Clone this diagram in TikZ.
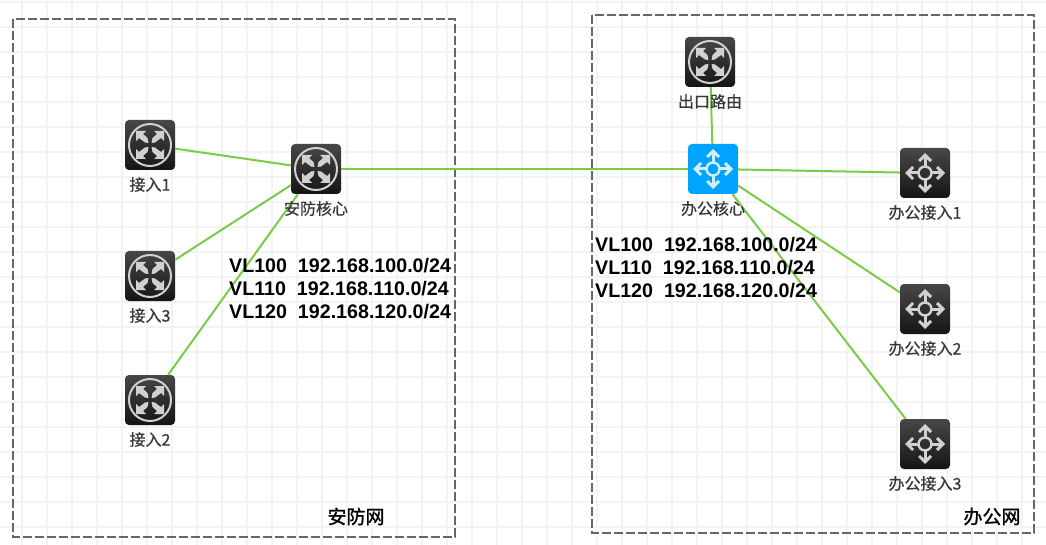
\documentclass[tikz,border=0pt]{standalone}
\usepackage{fontspec}
\usepackage{xcolor}
\setmainfont{Liberation Sans}
\newfontfamily\cjk[FakeBold=0.6]{Noto Sans CJK SC}
\newfontfamily\cjkzone[FakeBold=1.2]{Noto Sans CJK SC}
\definecolor{linkgreen}{HTML}{78CC46}
\definecolor{gridgray}{HTML}{F3F3F3}
\definecolor{zonegray}{HTML}{666666}
\definecolor{coreblue}{HTML}{00A4FF}
\tikzset{
  devbox/.style={rounded corners=4pt, minimum size=50pt, inner sep=0pt, top color=black!72, bottom color=black!92},
  corebox/.style={rounded corners=4pt, minimum size=50pt, inner sep=0pt, fill=coreblue},
  devlabel/.style={font=\cjk\fontsize{16}{18}\selectfont, text=black!78, inner sep=0pt},
  zonelabel/.style={font=\cjkzone\fontsize{19}{21}\selectfont, text=black, inner sep=0pt},
  vlanlabel/.style={font=\bfseries\fontsize{19.65}{23}\selectfont, align=left, anchor=west, inner sep=0pt},
  zonebox/.style={draw=zonegray, line width=2pt, dash pattern=on 9pt off 3pt},
  link/.style={draw=linkgreen, line width=2pt},
  routerglyph/.pic={
    \draw[black!18, line width=2pt] (0,0) circle (21);
    \foreach \sx/\sy in {1/1,1/-1,-1/1,-1/-1} {
      \begin{scope}[xscale=\sx, yscale=\sy]
        \fill[black!18] (14,-14) -- (4,-14) -- (7,-11) -- (2.5,-7) -- (1.5,-2) -- (5,-2.5) -- (11,-7) -- (14,-4) -- cycle;
      \end{scope}
    }
  },
  switchglyph/.pic={
    \draw[#1, line width=2.4pt] (0,0) circle (6.5);
    \foreach \r in {0,90,180,270} {
      \begin{scope}[rotate=\r]
        \draw[#1, line width=3pt] (7,0) -- (18,0);
        \fill[#1] (20,0) -- (13,-7) -- (11,-5) -- (15.5,0) -- (11,5) -- (13,7) -- cycle;
      \end{scope}
    }
  }
}
\begin{document}
\begin{tikzpicture}[x=1pt,y=-1pt]
\useasboundingbox (0,0) rectangle (1046,545);
\fill[white] (0,0) rectangle (1046,545);

% background grid
\foreach \gx in {22,47,...,1022}
  \draw[gridgray, line width=2.4pt] (\gx,0) -- (\gx,545);
\foreach \gy in {2,27,...,527}
  \draw[gridgray, line width=2.4pt] (0,\gy) -- (1046,\gy);

% zones
\draw[zonebox] (13,19) rectangle (455,537);
\draw[zonebox] (592,15) rectangle (1034,533);

% security side
\node[devbox] (access1) at (150,145) {};
\node[devbox] (access3) at (150,276) {};
\node[devbox] (access2) at (150,400) {};
\node[devbox] (seccore) at (316,169) {};
\foreach \dev in {access1,access3,access2,seccore}
  \pic at (\dev) {routerglyph};

% office side
\node[devbox] (exitrouter) at (710,62) {};
\pic at (exitrouter) {routerglyph};
\node[corebox] (officecore) at (713,169) {};
\pic at (officecore) {switchglyph={coreblue!18!white}};
\node[devbox] (office1) at (925,173) {};
\node[devbox] (office2) at (925,309) {};
\node[devbox] (office3) at (925,444) {};
\foreach \dev in {office1,office2,office3}
  \pic at (\dev) {switchglyph={black!18}};

% links
\draw[link] (access1) -- (seccore);
\draw[link] (access3) -- (seccore);
\draw[link] (access2) -- (seccore);
\draw[link] (seccore) -- (officecore);
\draw[link] (exitrouter) -- (officecore);
\draw[link] (officecore) -- (office1);
\draw[link] (officecore) -- (office2);
\draw[link] (officecore) -- (office3);

% labels
\node[devlabel] (access1text) at (150,184.5) {接入1};
\node[devlabel] (access3text) at (150,315.5) {接入3};
\node[devlabel] (access2text) at (150,439.5) {接入2};
\node[devlabel] (seccoretext) at (316,208.5) {安防核心};
\node[devlabel] (exittext) at (710,101.5) {出口路由};
\node[devlabel] (officecoretext) at (713,208.5) {办公核心};
\node[devlabel] (office1text) at (925,212.5) {办公接入1};
\node[devlabel] (office2text) at (925,348.5) {办公接入2};
\node[devlabel] (office3text) at (925,483.5) {办公接入3};
\node[zonelabel] (seczone) at (356,516.5) {安防网};
\node[zonelabel] (officezone) at (992,516.5) {办公网};

\node[vlanlabel] (secvlans) at (229,289) {VL100\ \ 192.168.100.0/24\\VL110\ \ 192.168.110.0/24\\VL120\ \ 192.168.120.0/24};
\node[vlanlabel] (officevlans) at (595,268) {VL100\ \ 192.168.100.0/24\\VL110\ \ 192.168.110.0/24\\VL120\ \ 192.168.120.0/24};
\end{tikzpicture}
\end{document}
